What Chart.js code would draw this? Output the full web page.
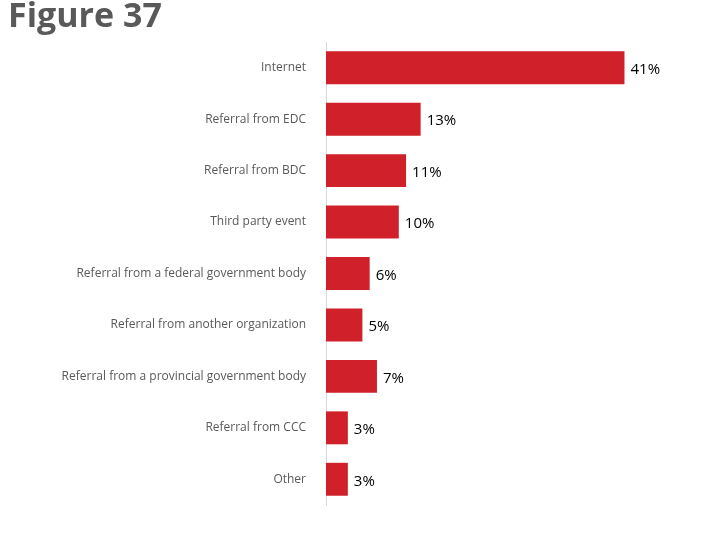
<!DOCTYPE html>
<html>
<head>
<meta charset="utf-8">
<script src="https://cdn.jsdelivr.net/npm/chart.js@4/dist/chart.umd.min.js"></script>
<style>
  body { margin: 0; background: #fff; }
  #wrap { width: 720px; height: 540px; position: relative; }
</style>
</head>
<body>
<div id="wrap"><canvas id="chart" width="720" height="540"></canvas></div>
<script>
const categories = [
  'Internet',
  'Referral from EDC',
  'Referral from BDC',
  'Third party event',
  'Referral from a federal government body',
  'Referral from another organization',
  'Referral from a provincial government body',
  'Referral from CCC',
  'Other'
];
const shares = [41, 13, 11, 10, 6, 5, 7, 3, 3];

// title + value labels
const decorations = {
  id: 'decorations',
  afterDraw(chart) {
    const ctx = chart.ctx;
    ctx.save();
    ctx.fillStyle = '#595959';
    ctx.font = 'bold 34px "Open Sans", sans-serif';
    ctx.textBaseline = 'top';
    ctx.textAlign = 'left';
    ctx.fillText('Figure 37', 8, 0);

    ctx.fillStyle = '#000';
    ctx.font = '15px "Open Sans", sans-serif';
    ctx.textBaseline = 'middle';
    chart.getDatasetMeta(0).data.forEach((bar, i) => {
      ctx.fillText(shares[i] + '%', bar.x + 6, bar.y + 2);
    });
    ctx.restore();
  }
};

new Chart(document.getElementById('chart'), {
  type: 'bar',
  data: {
    labels: categories,
    datasets: [{
      data: shares,
      backgroundColor: '#d0202a',
      barPercentage: 0.64,
      categoryPercentage: 1
    }]
  },
  options: {
    indexAxis: 'y',
    responsive: false,
    animation: false,
    layout: { padding: { top: 42, bottom: 35, right: 30, left: 0 } },
    plugins: { legend: { display: false }, tooltip: { enabled: false } },
    scales: {
      x: { display: false, min: 0, max: 50 },
      y: {
        grid: { display: false },
        border: { color: '#d9d9d9' },
        ticks: { color: '#595959', font: { size: 12, family: '"Open Sans", sans-serif' }, padding: 12 },
        afterFit(scale) { scale.width = 326; }
      }
    }
  },
  plugins: [decorations]
});
</script>
</body>
</html>
